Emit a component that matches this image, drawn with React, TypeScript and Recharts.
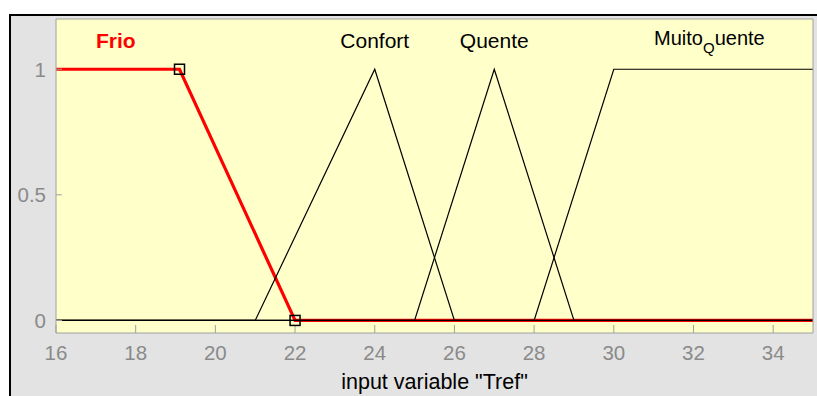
import React from 'react';
import { LineChart, Line, XAxis, YAxis, CartesianGrid, ReferenceDot } from 'recharts';

const xTicks = [16, 18, 20, 22, 24, 26, 28, 30, 32, 34];
const yTicks = [0, 0.5, 1];

// membership functions of "Tref" as breakpoints (temperature -> degree)
const frio = [
  { x: 16, y: 1 },
  { x: 19.1, y: 1 },
  { x: 22, y: 0 },
  { x: 35, y: 0 },
];
const confort = [
  { x: 16, y: 0 },
  { x: 21, y: 0 },
  { x: 24, y: 1 },
  { x: 26, y: 0 },
  { x: 35, y: 0 },
];
const quente = [
  { x: 16, y: 0 },
  { x: 25, y: 0 },
  { x: 27, y: 1 },
  { x: 29, y: 0 },
  { x: 35, y: 0 },
];
const muitoQuente = [
  { x: 16, y: 0 },
  { x: 28, y: 0 },
  { x: 30, y: 1 },
  { x: 35, y: 1 },
];

// names written above each function, at its centre
const mfNames = ['Frio', 'Confort', 'Quente', 'Muito_Quente'];
const mfCenters = [17.5, 24, 27, 32.4];
const nameLevel = 1.085;

const FONT = 'Arial, "Liberation Sans", sans-serif';
const AXIS = '#a0a0a0';

// black square handles on the selected (red) function
const Square = (props: any) => {
  const { cx, cy, index } = props;
  if (index !== 1 && index !== 2) return <g key={`sq-${index}`} />;
  return (
    <rect key={`sq-${index}`} x={cx - 5} y={cy - 5} width={10} height={10}
      fill="none" stroke="#000" strokeWidth={1.5} />
  );
};

const MfName = ({ cx, cy, name }: any) => {
  if (name === 'Frio') {
    return (
      <text x={cx} y={cy} textAnchor="middle" fontFamily={FONT} fontSize={21}
        fontWeight="bold" fill="#ff0000">{name}</text>
    );
  }
  if (name.includes('_')) {
    // TeX-style subscript: Muito_Quente -> Muito, subscript Q, uente
    const [head, tail] = name.split('_');
    return (
      <text x={cx} y={cy - 3} textAnchor="middle" fontFamily={FONT} fontSize={20} fill="#000">
        {head}
        <tspan dy={8} fontSize={15}>{tail[0]}</tspan>
        <tspan dy={-8}>{tail.slice(1)}</tspan>
      </text>
    );
  }
  return (
    <text x={cx} y={cy} textAnchor="middle" fontFamily={FONT} fontSize={21} fill="#000">{name}</text>
  );
};

export default function App() {
  const tickStyle = { fill: '#8a8a8a', fontSize: 20.5, fontFamily: FONT };
  return (
    <div style={{ position: 'absolute', left: 0, top: 0, width: 817, height: 396, background: '#fff', overflow: 'hidden' }}>
      <div style={{
        position: 'absolute', left: 9, top: 14, width: 820, height: 400,
        background: '#e3e3e3', borderLeft: '2px solid #000', borderTop: '2px solid #000',
      }} />
      <div style={{ position: 'absolute', left: 0, top: 0 }}>
        <LineChart width={817} height={396} margin={{ top: 0, right: 0, bottom: 0, left: 0 }}>
          <CartesianGrid horizontal={false} vertical={false} fill="#ffffca" fillOpacity={1} />
          <XAxis type="number" dataKey="x" domain={[16, 35]} ticks={xTicks} interval={0}
            allowDataOverflow height={63} tickSize={-8} tickMargin={20}
            stroke={AXIS} tick={tickStyle}
            label={{ value: 'input variable "Tref"', position: 'insideBottom', offset: 7,
              fill: '#000', fontSize: 21.5, fontFamily: FONT }} />
          <XAxis xAxisId="top" orientation="top" type="number" dataKey="x" domain={[16, 35]}
            ticks={xTicks} interval={0} allowDataOverflow height={19} tickSize={-6}
            stroke={AXIS} tick={false} />
          <YAxis type="number" domain={[-0.05, 1.2]} ticks={yTicks} interval={0}
            allowDataOverflow width={56} tickSize={-6} tickMargin={16}
            stroke={AXIS} tick={tickStyle} />
          <YAxis yAxisId="right" orientation="right" type="number" domain={[-0.05, 1.2]}
            ticks={yTicks} interval={0} allowDataOverflow width={4} tickSize={-6}
            stroke={AXIS} tick={false} />

          <Line data={frio} dataKey="y" type="linear" stroke="#ff0000" strokeWidth={3.2}
            dot={false} isAnimationActive={false} />
          <Line data={confort} dataKey="y" type="linear" stroke="#000" strokeWidth={1.2}
            dot={false} isAnimationActive={false} />
          <Line data={quente} dataKey="y" type="linear" stroke="#000" strokeWidth={1.2}
            dot={false} isAnimationActive={false} />
          <Line data={muitoQuente} dataKey="y" type="linear" stroke="#000" strokeWidth={1.2}
            dot={false} isAnimationActive={false} />
          <Line data={frio} dataKey="y" type="linear" stroke="none" dot={Square}
            activeDot={false} isAnimationActive={false} />

          {mfNames.map((name, i) => (
            <ReferenceDot key={name} x={mfCenters[i]} y={nameLevel} r={1}
              shape={(p: any) => <MfName cx={p.cx} cy={p.cy} name={name} />} />
          ))}
        </LineChart>
      </div>
    </div>
  );
}
